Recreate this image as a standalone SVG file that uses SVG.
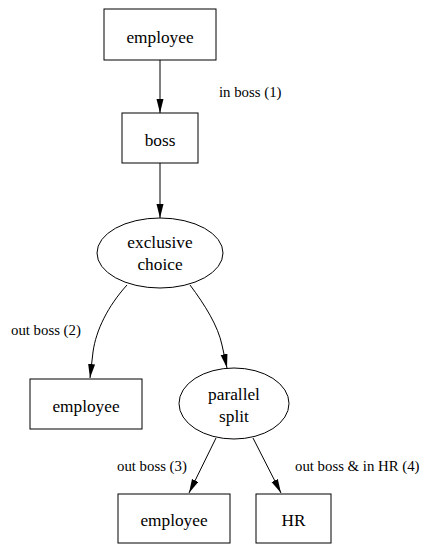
<svg xmlns="http://www.w3.org/2000/svg" width="425" height="544" viewBox="0 0 425 544" font-family="Liberation Serif, Times New Roman, Times, DejaVu Serif, serif">
  <style>
    .node rect, .node ellipse { fill: #ffffff; stroke: #000000; stroke-width: 1; }
    .node text { font-size: 17.3px; text-anchor: middle; fill: #000000; }
    .edge { fill: none; stroke: #000000; stroke-width: 1; marker-end: url(#arrow); }
    .label { font-size: 14.8px; fill: #000000; }
  </style>
  <defs>
    <marker id="arrow" markerUnits="userSpaceOnUse" markerWidth="15" markerHeight="8" refX="14" refY="3.5" orient="auto">
      <path d="M0,0 L14,3.5 L0,7 z" fill="#000000"/>
    </marker>
  </defs>
  <rect width="425" height="544" fill="#ffffff"/>

  <g id="connectors">
    <path class="edge" d="M160,60 L160,113"/>
    <path class="edge" d="M160,163 L160,218"/>
    <path class="edge" d="M127,285 C108,306 96,330 93,352 L90,378"/>
    <path class="edge" d="M190,285 C205,305 218,326 222,345 L227,368"/>
    <path class="edge" d="M216,438 L189,493"/>
    <path class="edge" d="M253,438 L281,493"/>
    <text class="label" x="219" y="97">in boss (1)</text>
    <text class="label" x="11" y="335">out boss (2)</text>
    <text class="label" x="117" y="471">out boss (3)</text>
    <text class="label" x="295" y="471">out boss &amp; in HR (4)</text>
  </g>

  <g id="employee-start" class="node">
    <rect x="104" y="9" width="112" height="51"/>
    <text x="160" y="43">employee</text>
  </g>
  <g id="boss" class="node">
    <rect x="122" y="113" width="76" height="50"/>
    <text x="160" y="146">boss</text>
  </g>
  <g id="exclusive-choice" class="node">
    <ellipse cx="160" cy="253" rx="63" ry="35"/>
    <text x="160" y="248">exclusive</text>
    <text x="160" y="270">choice</text>
  </g>
  <g id="employee-left" class="node">
    <rect x="30" y="379" width="112" height="50"/>
    <text x="86" y="412">employee</text>
  </g>
  <g id="parallel-split" class="node">
    <ellipse cx="234" cy="403.5" rx="55" ry="35.5"/>
    <text x="234" y="400">parallel</text>
    <text x="234" y="422">split</text>
  </g>
  <g id="employee-bottom" class="node">
    <rect x="118" y="494" width="112" height="49"/>
    <text x="174" y="526">employee</text>
  </g>
  <g id="hr" class="node">
    <rect x="256" y="494" width="75" height="49"/>
    <text x="293.5" y="526">HR</text>
  </g>
</svg>
